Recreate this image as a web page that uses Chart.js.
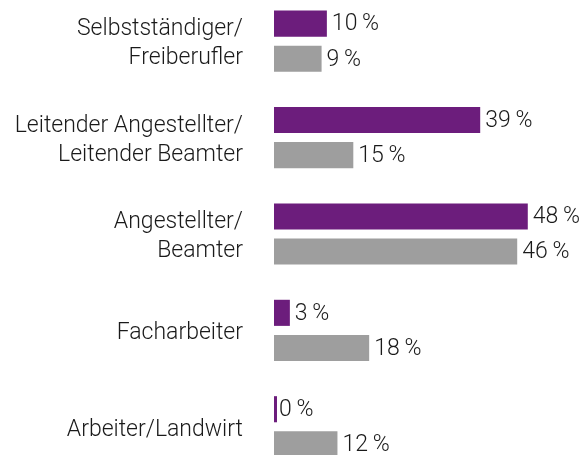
<!DOCTYPE html>
<html>
<head>
<meta charset="utf-8">
<script src="https://cdn.jsdelivr.net/npm/chart.js@4/dist/chart.umd.min.js"></script>
<style>
  html, body { margin: 0; padding: 0; background: #fff; overflow: hidden; }
  #c { position: absolute; left: 0; top: -7px; }
</style>
</head>
<body>
<canvas id="c" width="587" height="482" style="width:587px;height:482px"></canvas>
<script>
const categories = [
  ['Selbstständiger/', 'Freiberufler'],
  ['Leitender Angestellter/', 'Leitender Beamter'],
  ['Angestellter/', 'Beamter'],
  'Facharbeiter',
  'Arbeiter/Landwirt'
];
const seriesPurple = [10, 39, 48, 3, 0];
const seriesGray = [9, 15, 46, 18, 12];

const FONT = 'Roboto, "Liberation Sans", Arial, sans-serif';

const valueLabels = {
  id: 'valueLabels',
  afterDatasetsDraw(chart) {
    const ctx = chart.ctx;
    const xs = chart.scales.x;
    ctx.save();
    ctx.font = '300 23px ' + FONT;
    ctx.fillStyle = '#1a1a1a';
    ctx.textBaseline = 'middle';
    ctx.textAlign = 'left';
    chart.data.datasets.forEach((ds, i) => {
      const meta = chart.getDatasetMeta(i);
      meta.data.forEach((el, j) => {
        const v = ds.data[j];
        const x = xs.getPixelForValue(v) + 5;
        ctx.fillText(v + '\u2009%', x, el.y + 1);
      });
    });
    ctx.restore();
  }
};

new Chart(document.getElementById('c'), {
  type: 'bar',
  data: {
    labels: categories,
    datasets: [
      { data: seriesPurple, backgroundColor: '#6c1d7c', minBarLength: 3,
        categoryPercentage: 0.729, barPercentage: 0.743 },
      { data: seriesGray, backgroundColor: '#9e9e9e',
        categoryPercentage: 0.729, barPercentage: 0.743 }
    ]
  },
  options: {
    indexAxis: 'y',
    responsive: false,
    animation: false,
    layout: { padding: 0 },
    plugins: { legend: { display: false }, tooltip: { enabled: false } },
    scales: {
      x: { display: false, min: 0, max: 59.2 },
      y: {
        grid: { display: false, drawTicks: false },
        border: { display: false },
        ticks: {
          padding: 31,
          labelOffset: 3,
          color: '#1a1a1a',
          font: { family: FONT, size: 23, weight: '300', lineHeight: 1.26 }
        },
        afterFit(scale) {
          scale.width = 274;
          scale.paddingTop = 0;
          scale.paddingBottom = 0;
        }
      }
    }
  },
  plugins: [valueLabels]
});
</script>
</body>
</html>
